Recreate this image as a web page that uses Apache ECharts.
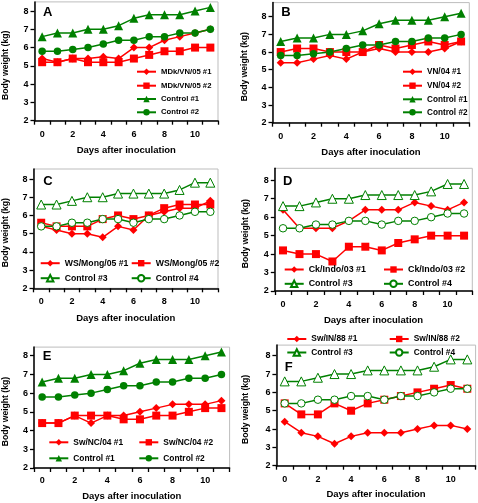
<!DOCTYPE html>
<html>
<head>
<meta charset="utf-8">
<script src="https://cdn.jsdelivr.net/npm/echarts@6/dist/echarts.min.js"></script>
<style>
html,body{margin:0;padding:0;background:#fff;}
#chart{width:478px;height:503px;}
</style>
</head>
<body>
<div id="chart"></div>
<script>
// ---- data ----
const days = ['0','1','2','3','4','5','6','7','8','9','10','11'];
const yTicks = [2,3,4,5,6,7,8];
const panelLetters = ['A','B','C','D','E','F'];
const xTitle = 'Days after inoculation';
const yTitle = 'Body weight (kg)';

const control1 = [6.6,6.8,6.8,7.0,7.0,7.2,7.6,7.8,7.8,7.8,8.0,8.2];
const control2 = [5.8,5.8,5.9,6.0,6.2,6.4,6.4,6.6,6.6,6.8,6.8,7.0];
const control3 = [6.6,6.6,6.8,7.0,7.0,7.2,7.2,7.2,7.2,7.4,7.8,7.8];
const control4 = [5.4,5.4,5.6,5.6,5.8,5.8,5.6,5.8,5.8,6.0,6.2,6.2];

const mdk1 = [5.4,5.2,5.4,5.4,5.5,5.4,6.0,6.0,6.4,6.6,6.8,7.0];
const mdk2 = [5.2,5.2,5.4,5.2,5.2,5.2,5.4,5.6,5.8,5.8,6.0,6.0];
const vn1  = [5.4,5.4,5.6,5.8,5.6,6.0,6.2,6.0,6.0,6.0,6.2,6.6];
const vn2  = [6.0,6.2,6.2,6.0,6.0,6.0,6.4,6.2,6.4,6.6,6.4,6.6];
const ws1  = [5.4,5.2,5.0,5.0,4.8,5.4,5.2,6.0,6.2,6.4,6.4,6.8];
const ws2  = [5.6,5.4,5.4,5.4,5.8,6.0,5.8,6.0,6.4,6.6,6.6,6.6];
const ck1  = [6.4,5.4,5.4,5.4,5.8,6.4,6.4,6.4,6.8,6.6,6.4,6.8];
const ck2  = [4.2,4.0,4.0,3.6,4.4,4.4,4.2,4.6,4.8,5.0,5.0,5.0];
const nc1  = [4.4,4.4,4.8,4.4,4.8,4.8,5.0,5.2,5.4,5.4,5.4,5.6];
const nc2  = [4.4,4.4,4.8,4.8,4.8,4.6,4.6,4.8,4.8,5.0,5.2,5.2];
const in1  = [4.4,3.8,3.6,3.2,3.6,3.8,3.8,3.8,4.0,4.2,4.2,4.0];
const in2  = [5.4,4.8,4.8,5.4,5.0,5.4,5.6,5.8,6.0,6.2,6.4,6.2];

const seriesNames = [
  ['MDk/VN/05 #1','MDk/VN/05 #2','Control #1','Control #2'],
  ['VN/04 #1','VN/04 #2','Control #1','Control #2'],
  ['WS/Mong/05 #1','WS/Mong/05 #2','Control #3','Control #4'],
  ['Ck/Indo/03 #1','Ck/Indo/03 #2','Control #3','Control #4'],
  ['Sw/NC/04 #1','Sw/NC/04 #2','Control #1','Control #2'],
  ['Sw/IN/88 #1','Sw/IN/88 #2','Control #3','Control #4']
];
const seriesData = [
  [mdk1, mdk2, control1, control2],
  [vn1, vn2, control1, control2],
  [ws1, ws2, control3, control4],
  [ck1, ck2, control3, control4],
  [nc1, nc2, control1, control2],
  [in1, in2, control3, control4]
];

// ---- layout / style ----
const FONT = 'Liberation Sans, Arial, sans-serif';
const RED = '#ff0000';
const GREEN = '#008000';

const panels = [
  {grid:{left:34,top:1.9,width:184,height:118.8}, ymax:8.5, xGap:25, yGap:24.5, xLblMargin:9,
   letter:[43,12.5], lg:{font:7.7, items:[[137,71.7],[137,85.7],[137,99],[137,112.3]]}},
  {grid:{left:272.5,top:2.6,width:196.8,height:120.1}, ymax:8.8, xGap:24.5, yGap:23.5, xLblMargin:9,
   letter:[281.3,12], lg:{font:8.2, items:[[403,71.7],[403,85.7],[403,99.3],[403,112.3]]}},
  {grid:{left:33.5,top:169,width:184.5,height:119.3}, ymax:8.55, xGap:25.5, yGap:23, xLblMargin:9,
   letter:[43.3,181], lg:{font:8.7, items:[[40.7,262.7],[131.7,262.7],[40.7,277.7],[131.7,277.7]]}},
  {grid:{left:274.8,top:168.3,width:197.5,height:122.7}, ymax:8.65, xGap:24.3, yGap:24.3, xLblMargin:9,
   letter:[283,181], lg:{font:8.9, items:[[284.7,269],[384,269],[284.7,283.3],[384,283.3]]}},
  {grid:{left:34,top:347.1,width:195.6,height:120.9}, ymax:8.46, xGap:23.3, yGap:23.5, xLblMargin:8,
   letter:[42.7,356.6], lg:{font:8.4, items:[[49.3,442.3],[139.3,442.3],[49.3,458.3],[139.3,458.3]]}},
  {grid:{left:276.4,top:345.1,width:199.2,height:120.6}, ymax:8.58, xGap:23.9, yGap:26, xLblMargin:9,
   letter:[284.7,367], lg:{font:8.4, items:[[287.3,339],[389.7,339],[287.3,352.3],[389.7,352.3]]}}
];

const markerStyles = [
  {symbol:'diamond', symbolSize:8, color:RED, fill:RED},
  {symbol:'rect', symbolSize:8, color:RED, fill:RED}
];
function controlStyle(name){
  if (name === 'Control #1') return {symbol:'triangle', symbolSize:9, color:GREEN, fill:GREEN};
  if (name === 'Control #2') return {symbol:'circle', symbolSize:7.5, color:GREEN, fill:GREEN};
  if (name === 'Control #3') return {symbol:'triangle', symbolSize:9, color:GREEN, fill:'#ffffff'};
  return {symbol:'circle', symbolSize:7.5, color:GREEN, fill:'#ffffff'};
}

const grids = [], xAxes = [], yAxes = [], series = [], legends = [], graphics = [];

panels.forEach((p, i) => {
  grids.push(Object.assign({show:true, borderColor:'#bdbdbd', borderWidth:1, backgroundColor:'transparent'}, p.grid));
  xAxes.push({
    type:'category', gridIndex:i, data:days, boundaryGap:true,
    axisLine:{lineStyle:{color:'#000', width:1.5}},
    axisTick:{show:true, interval:0, alignWithLabel:false, length:4, lineStyle:{color:'#000', width:1.3}},
    axisLabel:{interval:1, margin:p.xLblMargin, color:'#000', fontSize:9, fontWeight:'bold', fontFamily:FONT},
    name:xTitle, nameLocation:'middle', nameGap:p.xGap,
    nameTextStyle:{color:'#000', fontSize:9.5, fontWeight:'bold', fontFamily:FONT},
    splitLine:{show:false}
  });
  yAxes.push({
    type:'value', gridIndex:i, min:2, max:p.ymax,
    axisLine:{show:true, lineStyle:{color:'#000', width:1.5}},
    axisTick:{show:true, length:4, customValues:yTicks, lineStyle:{color:'#000', width:1.3}},
    axisLabel:{customValues:yTicks, margin:6, color:'#000', fontSize:9, fontWeight:'bold', fontFamily:FONT},
    name:yTitle, nameLocation:'middle', nameGap:p.yGap,
    nameTextStyle:{color:'#000', fontSize:8.6, fontWeight:'bold', fontFamily:FONT, padding:[0,8,0,0]},
    splitLine:{show:false}
  });
  seriesNames[i].forEach((nm, k) => {
    const st = k < 2 ? markerStyles[k] : controlStyle(nm);
    series.push({
      type:'line', name:nm, xAxisIndex:i, yAxisIndex:i, data:seriesData[i][k],
      symbol:st.symbol, symbolSize:st.symbolSize, showAllSymbol:true,
      lineStyle:{color:st.color, width:1.5},
      itemStyle:{color:st.fill, borderColor:st.color, borderWidth: st.fill === '#ffffff' ? 1 : 0},
      emphasis:{disabled:true}, animation:false, silent:true
    });
    const it = p.lg.items[k];
    legends.push({
      data:[nm], orient:'horizontal', left:it[0]-1, top:it[1]-4, padding:0,
      itemWidth:19, itemHeight:8, selectedMode:false,
      textStyle:{color:'#000', fontSize:p.lg.font, fontWeight:'bold', fontFamily:FONT}
    });
  });
  graphics.push({
    type:'text', x:p.letter[0], y:p.letter[1],
    style:{text:panelLetters[i], font:'bold 13px ' + FONT, fill:'#000', textVerticalAlign:'middle', verticalAlign:'middle'}
  });
});

const chart = echarts.init(document.getElementById('chart'), null, {renderer:'canvas'});
chart.setOption({
  animation:false,
  backgroundColor:'#ffffff',
  grid:grids, xAxis:xAxes, yAxis:yAxes, series:series, legend:legends,
  graphic:graphics
});
</script>
</body>
</html>
